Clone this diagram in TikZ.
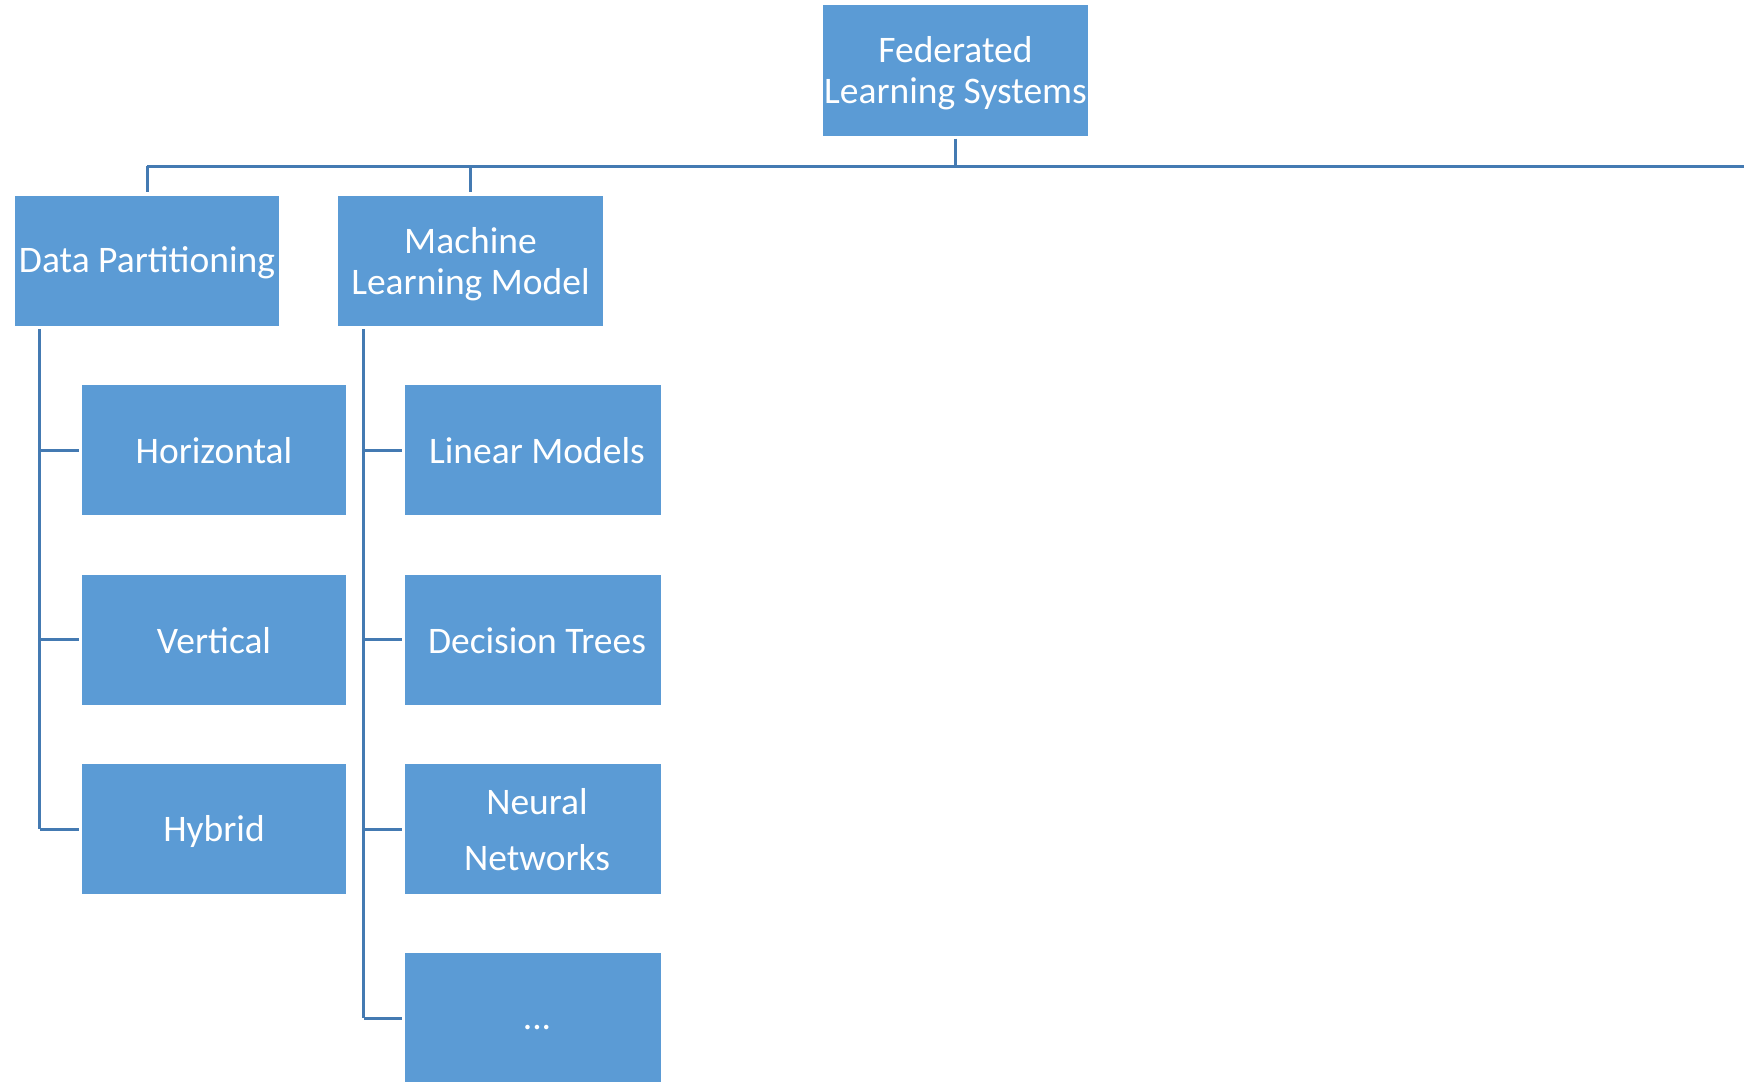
\documentclass[tikz,border=0pt]{standalone}
\usepackage{fontspec}
\setmainfont{Carlito}
\definecolor{boxblue}{RGB}{91,155,213}
\definecolor{lineblue}{RGB}{68,122,178}
\begin{document}
\begin{tikzpicture}[x=1pt,y=-1pt,
  box/.style={fill=boxblue, draw=none, minimum width=265pt, minimum height=130pt, inner sep=0pt},
  leaf/.style={box, minimum width=256pt},
  txt/.style={text=white, align=center, inner sep=0pt, font=\fontsize{37.5}{41}\selectfont},
  conn/.style={draw=lineblue, line width=3pt}]
\useasboundingbox (0,0) rectangle (1744,1081);
\fill[white] (0,0) rectangle (1744,1081);
\node[box] (top) at (955.5,70.5) {};
\node[box, minimum width=264pt] (dp) at (147,261) {};
\node[box] (ml) at (470.5,261) {};
\node[box, minimum width=264pt] (h) at (214,450) {};
\node[box, minimum width=264pt] (v) at (214,639.5) {};
\node[box, minimum width=264pt] (hy) at (214,829) {};
\node[leaf] (lm) at (533,450) {};
\node[leaf] (dt) at (533,639.5) {};
\node[leaf] (nn) at (533,829) {};
\node[leaf] (etc) at (533,1018) {};
% texts
\node[txt] (topt) at ([yshift=-3pt]top.center) {Federated\\Learning Systems};
\node[txt] (dpt) at ([yshift=-2pt]dp.center) {Data Partitioning};
\node[txt] (mlt) at ([yshift=-3pt]ml.center) {Machine\\Learning Model};
\node[txt] (ht) at ([yshift=-1pt]h.center) {Horizontal};
\node[txt] (vt) at ([yshift=-1pt]v.center) {Vertical};
\node[txt] (hyt) at ([yshift=-2pt]hy.center) {Hybrid};
\node[txt] (lmt) at ([xshift=4pt,yshift=-1pt]lm.center) {Linear Models};
\node[txt] (dtt) at ([xshift=4pt,yshift=-1pt]dt.center) {Decision Trees};
\node[txt, font=\fontsize{37.5}{56}\selectfont] (nnt) at ([xshift=4pt,yshift=-1pt]nn.center) {Neural\\Networks};
\node[txt] (etct) at ([xshift=4pt,yshift=-10pt]etc.center) {...};
% bus
\coordinate (busL) at (147,166);
\coordinate (busR) at (1744,166);
\draw[conn] (busL) -- (busR);
\draw[conn] ([yshift=-3pt]top.south) -- (top.south |- busL);
\draw[conn] (dp.north |- busL) -- ([yshift=4pt]dp.north);
\draw[conn] (ml.north |- busL) -- ([yshift=4pt]ml.north);
% data partitioning trunk
\coordinate (dpx) at ([xshift=25pt,yshift=-3pt]dp.south west);
\draw[conn] (dpx) -- (dpx |- hy.west);
\foreach \c in {h,v,hy}{
  \draw[conn] (dpx |- \c.west) -- ([xshift=-3pt]\c.west);
}
% machine learning trunk
\coordinate (mlx) at ([xshift=26pt,yshift=-3pt]ml.south west);
\draw[conn] (mlx) -- (mlx |- etc.west);
\foreach \c in {lm,dt,nn,etc}{
  \draw[conn] (mlx |- \c.west) -- ([xshift=-3pt]\c.west);
}
\end{tikzpicture}
\end{document}
